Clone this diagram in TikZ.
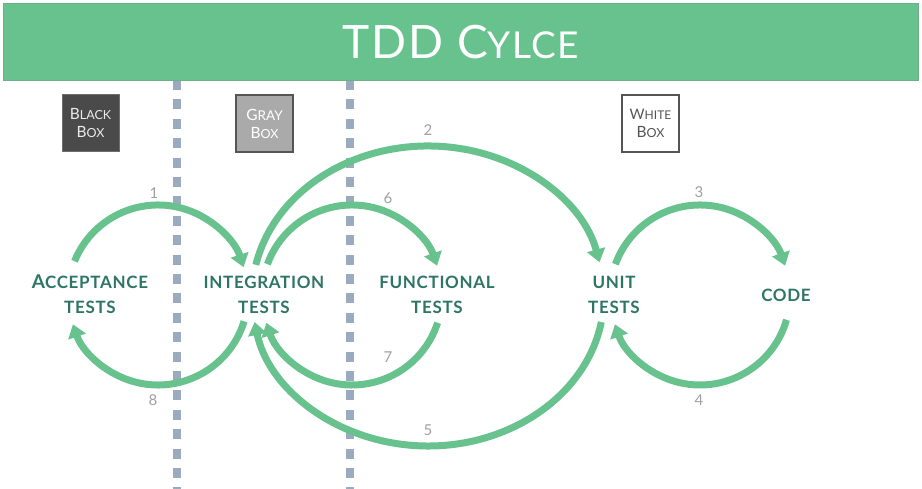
\documentclass[tikz,border=0pt]{standalone}
\usepackage{fontspec}
\setmainfont{Lato}
\newfontfamily\lblfont[LetterSpace=4]{Lato}
\newfontfamily\headfont[LetterSpace=4]{Lato}
\usetikzlibrary{arrows.meta}

\definecolor{barGreen}{RGB}{104,194,141}
\definecolor{flowGreen}{RGB}{104,194,141}
\definecolor{labelTeal}{RGB}{46,118,100}
\definecolor{sepBlue}{RGB}{154,170,191}
\definecolor{numGray}{RGB}{160,160,160}
\definecolor{boxDark}{RGB}{74,74,74}
\definecolor{boxMid}{RGB}{170,170,170}
\definecolor{boxEdge}{RGB}{85,85,85}

\tikzset{
  sepline/.style={draw=sepBlue, line width=7.5pt, dash pattern=on 10pt off 9.4pt},
  flow/.style={draw=flowGreen, line width=7pt, -{Triangle[width=18pt,length=13pt]}},
  stage/.style={text=labelTeal, font=\lblfont\bfseries\fontsize{17}{25}\selectfont, align=center, inner sep=2pt},
  num/.style={text=numGray, font=\fontsize{15}{16}\selectfont, inner sep=1pt},
  boxbase/.style={minimum width=57pt, minimum height=57pt, inner sep=0pt, align=center,
    font=\fontsize{14}{18}\selectfont},
}

\begin{document}
\begin{tikzpicture}[x=1pt,y=1pt]
\useasboundingbox (0,0) rectangle (922,489);

% dotted separators between the box levels
\draw[sepline] (177,409) -- (177,0);
\draw[sepline] (350,409) -- (350,0);

% title bar
\node[fill=barGreen, draw=barGreen!70!gray, line width=0.8pt, minimum width=915pt, minimum height=77pt,
      inner sep=0pt, anchor=north west] (bar) at (3,486) {};
\node[text=white, font=\headfont] (title) at (bar.center)
  {{\fontsize{46}{50}\selectfont TDD\ C}{\fontsize{37}{40}\selectfont YLCE}};

% box-level tags
\node[boxbase, fill=boxDark, draw=boxDark!80!white, line width=1pt, text=white!92!black] (black) at (90.5,365.5)
  {{\fontsize{15.5}{18}\selectfont B}{\fontsize{12.5}{18}\selectfont LACK}\\
   {\fontsize{15.5}{18}\selectfont B}{\fontsize{12.5}{18}\selectfont OX}};
\node[boxbase, fill=boxMid, draw=boxEdge, line width=2.2pt, text=white] (gray) at (264.5,365.5)
  {{\fontsize{15.5}{18}\selectfont G}{\fontsize{13.5}{18}\selectfont RAY}\\
   {\fontsize{15.5}{18}\selectfont B}{\fontsize{12.5}{18}\selectfont OX}};
\node[boxbase, fill=white, draw=boxEdge, line width=2.5pt, text=boxEdge] (white) at (650.5,365.5)
  {{\fontsize{14.5}{18}\selectfont W}{\fontsize{12}{18}\selectfont HITE}\\
   {\fontsize{15.5}{18}\selectfont B}{\fontsize{12.5}{18}\selectfont OX}};

% stages
\node[stage] (acc)  at (90,194.5)  {{\fontsize{19}{25}\selectfont A}CCEPTANCE\\TESTS};
\node[stage] (int)  at (264,194.5) {INTEGRATION\\TESTS};
\node[stage] (fun)  at (437,194.5) {FUNCTIONAL\\TESTS};
\node[stage] (unit) at (614,194.5) {UNIT\\TESTS};
\node[stage] (code) at (786,194)   {CODE};

% centres of the loops
\coordinate (cA) at (158,194);
\coordinate (cB) at (352,194);
\coordinate (cC) at (700,194);
\coordinate (cE) at (428,193);

% 1 / 8 : acceptance <-> integration
\path (cA) ++(158:90pt) coordinate (s1);
\path (cA) ++(-17:90pt) coordinate (s8);
\draw[flow] (s1) arc[start angle=158, end angle=18, radius=90pt];
\draw[flow] (s8) arc[start angle=-17, end angle=-161, radius=90pt];

% 6 / 7 : integration <-> functional
\path (cB) ++(160:90pt) coordinate (s6);
\path (cB) ++(-18:90pt) coordinate (s7);
\draw[flow] (s6) arc[start angle=160, end angle=19, radius=90pt];
\draw[flow] (s7) arc[start angle=-18, end angle=-162, radius=90pt];

% 3 / 4 : unit <-> code
\path (cC) ++(160:90pt) coordinate (s3);
\path (cC) ++(-16:90pt) coordinate (s4);
\draw[flow] (s3) arc[start angle=160, end angle=19, radius=90pt];
\draw[flow] (s4) arc[start angle=-16, end angle=-161, radius=90pt];

% 2 / 5 : integration <-> unit
\path (cE) ++(168:176pt and 150pt) coordinate (s2);
\path (cE) ++(-10:176pt and 150pt) coordinate (s5);
\draw[flow] (s2) arc[start angle=168, end angle=13, x radius=176pt, y radius=150pt];
\draw[flow] (s5) arc[start angle=-10, end angle=-170, x radius=176pt, y radius=150pt];

% step numbers
\node[num] (n1) at (154,296) {1};
\node[num] (n2) at (428,359) {2};
\node[num] (n3) at (699,297) {3};
\node[num] (n4) at (699,89)  {4};
\node[num] (n5) at (428,59)  {5};
\node[num] (n6) at (388,291) {6};
\node[num] (n7) at (388,132) {7};
\node[num] (n8) at (153,89)  {8};
\end{tikzpicture}
\end{document}
